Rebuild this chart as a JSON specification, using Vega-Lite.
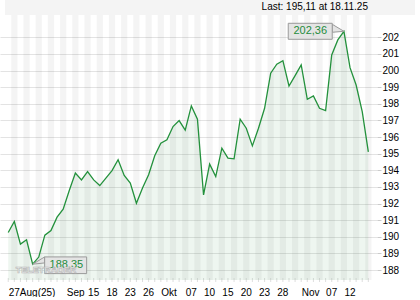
{
  "$schema": "https://vega.github.io/schema/vega-lite/v6.json",
  "width": 377,
  "height": 265,
  "padding": {"left": 0, "top": 0, "right": 0, "bottom": 0},
  "background": "white",
  "config": {
    "font": "Liberation Sans",
    "view": {"stroke": null},
    "locale": {"number": {"decimal": ",", "thousands": ".", "grouping": [3], "currency": ["", " €"]}}
  },
  "data": {"values": [
    {"i": 0, "date": "2025-08-27", "close": 190.26},
    {"i": 1, "date": "2025-08-28", "close": 190.92},
    {"i": 2, "date": "2025-08-29", "close": 189.56},
    {"i": 3, "date": "2025-09-01", "close": 189.82},
    {"i": 4, "date": "2025-09-02", "close": 188.35},
    {"i": 5, "date": "2025-09-03", "close": 188.78},
    {"i": 6, "date": "2025-09-04", "close": 190.10},
    {"i": 7, "date": "2025-09-05", "close": 190.38},
    {"i": 8, "date": "2025-09-08", "close": 191.18},
    {"i": 9, "date": "2025-09-09", "close": 191.66},
    {"i": 10, "date": "2025-09-10", "close": 192.78},
    {"i": 11, "date": "2025-09-11", "close": 193.83},
    {"i": 12, "date": "2025-09-12", "close": 193.42},
    {"i": 13, "date": "2025-09-15", "close": 193.92},
    {"i": 14, "date": "2025-09-16", "close": 193.42},
    {"i": 15, "date": "2025-09-17", "close": 193.08},
    {"i": 16, "date": "2025-09-18", "close": 193.53},
    {"i": 17, "date": "2025-09-19", "close": 193.98},
    {"i": 18, "date": "2025-09-22", "close": 194.63},
    {"i": 19, "date": "2025-09-23", "close": 193.69},
    {"i": 20, "date": "2025-09-24", "close": 193.23},
    {"i": 21, "date": "2025-09-25", "close": 192.02},
    {"i": 22, "date": "2025-09-26", "close": 192.93},
    {"i": 23, "date": "2025-09-29", "close": 193.73},
    {"i": 24, "date": "2025-09-30", "close": 194.87},
    {"i": 25, "date": "2025-10-01", "close": 195.63},
    {"i": 26, "date": "2025-10-02", "close": 195.83},
    {"i": 27, "date": "2025-10-03", "close": 196.63},
    {"i": 28, "date": "2025-10-06", "close": 196.99},
    {"i": 29, "date": "2025-10-07", "close": 196.41},
    {"i": 30, "date": "2025-10-08", "close": 197.87},
    {"i": 31, "date": "2025-10-09", "close": 197.07},
    {"i": 32, "date": "2025-10-10", "close": 192.52},
    {"i": 33, "date": "2025-10-13", "close": 194.37},
    {"i": 34, "date": "2025-10-14", "close": 193.62},
    {"i": 35, "date": "2025-10-15", "close": 195.33},
    {"i": 36, "date": "2025-10-16", "close": 194.73},
    {"i": 37, "date": "2025-10-17", "close": 194.69},
    {"i": 38, "date": "2025-10-20", "close": 197.07},
    {"i": 39, "date": "2025-10-21", "close": 196.53},
    {"i": 40, "date": "2025-10-22", "close": 195.47},
    {"i": 41, "date": "2025-10-23", "close": 196.53},
    {"i": 42, "date": "2025-10-24", "close": 197.73},
    {"i": 43, "date": "2025-10-27", "close": 199.84},
    {"i": 44, "date": "2025-10-28", "close": 200.38},
    {"i": 45, "date": "2025-10-29", "close": 200.59},
    {"i": 46, "date": "2025-10-30", "close": 199.07},
    {"i": 47, "date": "2025-10-31", "close": 199.69},
    {"i": 48, "date": "2025-11-03", "close": 200.34},
    {"i": 49, "date": "2025-11-04", "close": 198.27},
    {"i": 50, "date": "2025-11-05", "close": 198.47},
    {"i": 51, "date": "2025-11-06", "close": 197.73},
    {"i": 52, "date": "2025-11-07", "close": 197.59},
    {"i": 53, "date": "2025-11-10", "close": 200.94},
    {"i": 54, "date": "2025-11-11", "close": 201.84},
    {"i": 55, "date": "2025-11-12", "close": 202.36},
    {"i": 56, "date": "2025-11-13", "close": 200.17},
    {"i": 57, "date": "2025-11-14", "close": 199.13},
    {"i": 58, "date": "2025-11-17", "close": 197.53},
    {"i": 59, "date": "2025-11-18", "close": 195.11}
  ]},
  "encoding": {
    "x": {"field": "i", "type": "quantitative", "scale": {"domain": [-0.53, 59.6], "nice": false, "zero": false},
      "axis": {"title": null, "grid": false, "domain": false, "ticks": false, "labelPadding": 7, "labelFontSize": 10, "labelColor": "#000000", "labelAlign": "left", "labelOverlap": false, "labelBound": false, "labelFlush": false,
        "values": [0, 9.5, 13, 16, 19, 22, 25, 29, 32, 35, 38, 41, 44, 48, 52, 55],
        "labelExpr": "['27Aug(25)','Sep','15','18','23','26','Okt','07','10','15','20','23','28','Nov','07','12'][indexof([0, 9.5, 13, 16, 19, 22, 25, 29, 32, 35, 38, 41, 44, 48, 52, 55], datum.value)]"}},
    "y": {"field": "close", "type": "quantitative", "scale": {"domain": [187.4, 203.34], "nice": false, "zero": false},
      "axis": {"orient": "right", "title": null, "values": [188,189,190,191,192,193,194,195,196,197,198,199,200,201,202], "grid": true, "gridColor": "#e3e3e3", "domain": false, "tickColor": "#cccccc", "tickSize": 4, "labelPadding": 1, "labelFontSize": 10, "labelColor": "#000000"}}
  },
  "layer": [
    {
      "transform": [{"filter": "datum.i == 59"}],
      "mark": {"type": "rect", "fill": "#f4f4f4", "yOffset": -15, "x2Offset": 43},
      "encoding": {"x": {"datum": -0.53, "type": "quantitative"}, "x2": {"datum": 59.6}, "y": {"datum": 203.34, "type": "quantitative"}, "y2": {"datum": 203.34}}
    },
    {
      "transform": [{"filter": "datum.i == 59"}],
      "mark": {"type": "text", "text": "Last: 195,11 at 18.11.25", "fontSize": 10, "color": "#000000", "align": "right", "baseline": "middle", "dx": -4, "dy": -8},
      "encoding": {"x": {"datum": 59.6, "type": "quantitative"}, "y": {"datum": 203.34, "type": "quantitative"}}
    },
    {
      "transform": [{"filter": "datum.i % 2 == 1"}],
      "mark": {"type": "bar", "size": 6.27, "fill": "#000000", "fillOpacity": 0.045},
      "encoding": {"y": {"datum": 203.34, "type": "quantitative"}, "y2": {"datum": 187.4}}
    },
    {
      "mark": {"type": "tick", "orient": "vertical", "size": 4, "thickness": 1, "color": "#d0d0d0"},
      "encoding": {"y": {"datum": 187.4, "type": "quantitative"}}
    },
    {
      "mark": {"type": "area", "color": "#2a8c3c", "opacity": 0.08},
      "encoding": {"y2": {"datum": 187.4}}
    },
    {
      "mark": {"type": "line", "color": "#23913c", "strokeWidth": 1.3},
      "encoding": {}
    },
    {
      "transform": [{"filter": "datum.i == 55"}],
      "mark": {"type": "point", "shape": "M -11.7 -7 L 0 0 L -11.7 1 Z", "size": 4, "filled": true, "fill": "#e4e4e4", "stroke": "#9a9a9a", "strokeWidth": 1, "opacity": 1},
      "encoding": {}
    },
    {
      "transform": [{"filter": "datum.i == 55"}],
      "mark": {"type": "rect", "fill": "#e4e4e4", "stroke": "#9a9a9a", "strokeWidth": 1, "xOffset": -55.7, "x2Offset": -11.7, "yOffset": -8, "y2Offset": 8},
      "encoding": {"x2": {"field": "i"}, "y2": {"field": "close"}}
    },
    {
      "transform": [{"filter": "datum.i == 55"}],
      "mark": {"type": "text", "color": "#1e8c3c", "fontSize": 11, "dx": -33.7, "dy": 0, "align": "center", "baseline": "middle"},
      "encoding": {"text": {"field": "close", "type": "quantitative", "format": ".2f"}}
    },
    {
      "transform": [{"filter": "datum.i == 4"}],
      "mark": {"type": "point", "shape": "M 12 -7.3 L 0 0 L 12 -1.3 Z", "size": 4, "filled": true, "fill": "#e4e4e4", "stroke": "#9a9a9a", "strokeWidth": 1, "opacity": 1},
      "encoding": {}
    },
    {
      "transform": [{"filter": "datum.i == 4"}],
      "mark": {"type": "rect", "fill": "#e4e4e4", "stroke": "#9a9a9a", "strokeWidth": 1, "xOffset": 12, "x2Offset": 54, "yOffset": -7.3, "y2Offset": 9.4},
      "encoding": {"x2": {"field": "i"}, "y2": {"field": "close"}}
    },
    {
      "transform": [{"filter": "datum.i == 4"}],
      "mark": {"type": "text", "color": "#1e8c3c", "fontSize": 11, "dx": 33.7, "dy": 1, "align": "center", "baseline": "middle"},
      "encoding": {"text": {"field": "close", "type": "quantitative", "format": ".2f"}}
    },
    {
      "transform": [{"filter": "datum.i == 0"}],
      "mark": {"type": "text", "text": "TELETRADER", "fontSize": 9, "fontWeight": "bold", "fill": "#ffffff", "stroke": "#b8b8b8", "strokeWidth": 0.7, "align": "center", "baseline": "middle"},
      "encoding": {"x": {"datum": 6.17, "type": "quantitative"}, "y": {"datum": 187.99, "type": "quantitative"}}
    }
  ]
}
